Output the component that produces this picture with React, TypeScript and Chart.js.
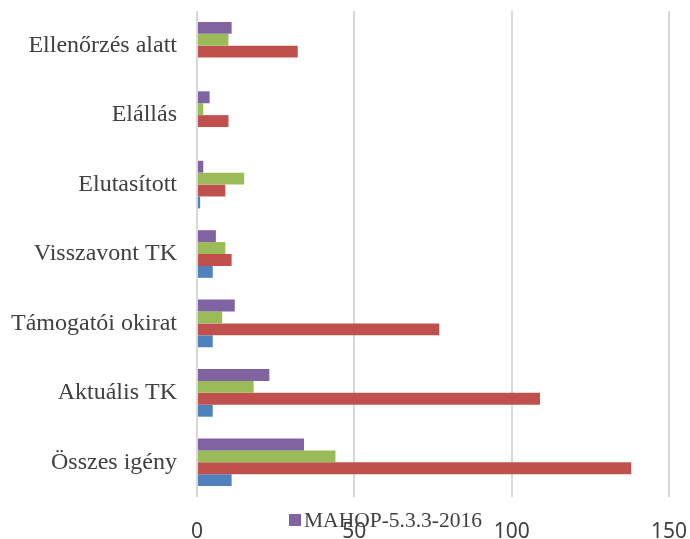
import React, { useEffect, useRef } from 'react';
import { Chart, registerables } from 'chart.js';

Chart.register(...registerables);

const categories = [
  'Ellenőrzés alatt',
  'Elállás',
  'Elutasított',
  'Visszavont TK',
  'Támogatói okirat',
  'Aktuális TK',
  'Összes igény',
];
const seriesPurple = [11, 4, 2, 6, 12, 23, 34];
const seriesGreen = [10, 2, 15, 9, 8, 18, 44];
const seriesRed = [32, 10, 9, 11, 77, 109, 138];
const seriesBlue = [0, 0, 1, 5, 5, 5, 11];
const legendLabel = 'MAHOP-5.3.3-2016';
const xMin = 0;
const xMax = 150;
const xStep = 50;

const legendPlugin = {
  id: 'customLegend',
  afterDraw(chart: any) {
    const ctx = chart.ctx;
    const ds = chart.data.datasets[0];
    const x = chart.chartArea.left + 92;
    const y = chart.height - 19;
    ctx.save();
    ctx.fillStyle = ds.backgroundColor;
    ctx.fillRect(x, y - 6, 12, 12);
    ctx.font = '21.5px "Liberation Serif", "Times New Roman", serif';
    ctx.fillStyle = '#404040';
    ctx.textBaseline = 'middle';
    ctx.textAlign = 'left';
    ctx.fillText(ds.label, x + 15, y + 1);
    ctx.restore();
  },
};

export default function App() {
  const canvasRef = useRef<HTMLCanvasElement | null>(null);

  useEffect(() => {
    if (!canvasRef.current) return;
    const chart = new Chart(canvasRef.current, {
      type: 'bar',
      data: {
        labels: categories,
        datasets: [
          { label: legendLabel, data: seriesPurple, backgroundColor: '#8064a2' },
          { label: '', data: seriesGreen, backgroundColor: '#9bbb59' },
          { label: '', data: seriesRed, backgroundColor: '#c0504d' },
          { label: '', data: seriesBlue, backgroundColor: '#4f81bd' },
        ],
      },
      options: {
        indexAxis: 'y',
        animation: false,
        responsive: true,
        maintainAspectRatio: false,
        layout: { padding: { top: 11, right: 21, bottom: 0, left: 0 } },
        datasets: {
          bar: { categoryPercentage: 0.686, barPercentage: 1 },
        },
        plugins: {
          legend: { display: false },
          tooltip: { enabled: false },
        },
        scales: {
          x: {
            min: xMin,
            max: xMax,
            ticks: {
              stepSize: xStep,
              color: '#404040',
              padding: 22,
              font: { family: '"Noto Sans", sans-serif', size: 21 },
            },
            grid: { color: '#d9d9d9', lineWidth: 2, drawTicks: false },
            border: { display: false },
            afterFit(scale: any) {
              scale.height = 42;
              scale.paddingLeft = 0;
              scale.paddingRight = 0;
            },
          },
          y: {
            ticks: {
              color: '#404040',
              padding: 20,
              font: { family: '"Liberation Serif", "Times New Roman", serif', size: 24 },
            },
            grid: { display: false, drawTicks: false },
            border: { display: false },
            afterFit(scale: any) {
              scale.width = 197;
              scale.paddingTop = 0;
              scale.paddingBottom = 0;
            },
          },
        },
      },
      plugins: [legendPlugin],
    });
    return () => chart.destroy();
  }, []);

  return (
    <div style={{ position: 'absolute', left: 0, top: 0, width: 690, height: 539, background: '#fff' }}>
      <canvas ref={canvasRef} />
    </div>
  );
}
